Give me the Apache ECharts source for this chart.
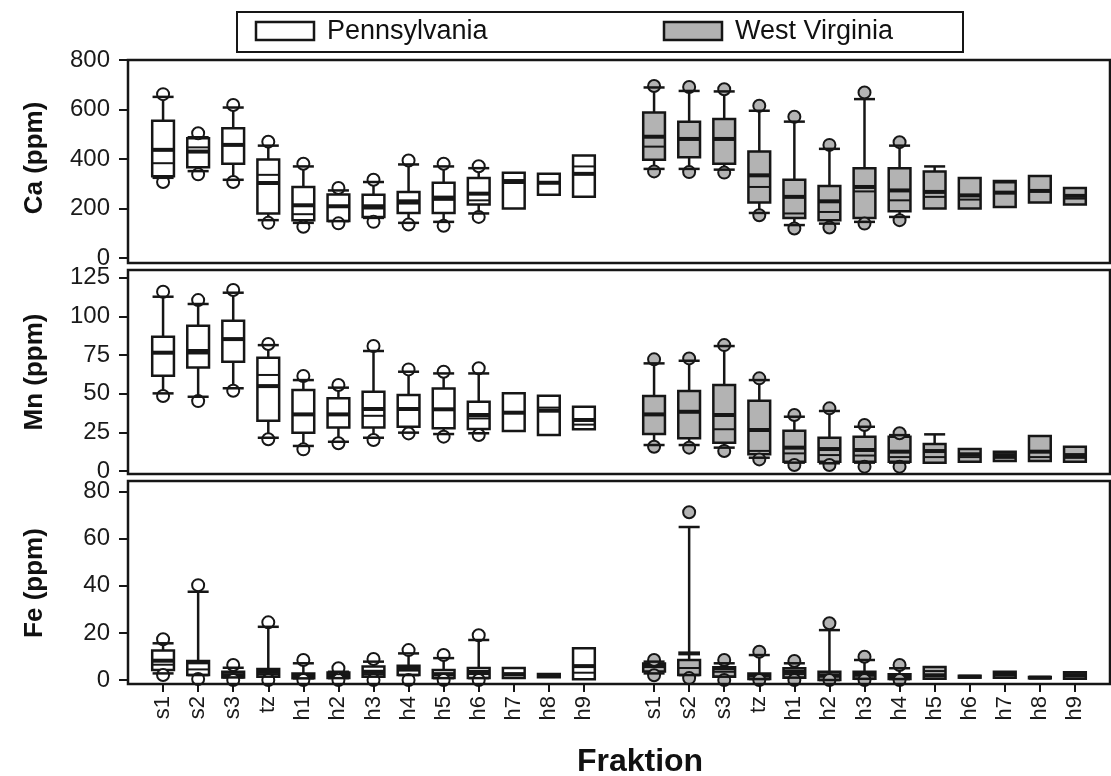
<!DOCTYPE html>
<html><head><meta charset="utf-8">
<script src="https://cdn.jsdelivr.net/npm/echarts@6/dist/echarts.min.js"></script>
<style>html,body{margin:0;padding:0;background:#fff}#c{width:1111px;height:776px}</style>
</head><body><div id="c"></div>
<script>
// Fractions (x categories), same for both states
const fractions = ['s1','s2','s3','tz','h1','h2','h3','h4','h5','h6','h7','h8','h9'];
const states = ['Pennsylvania', 'West Virginia'];
// Row layout: [5th pct (circle), 10th pct (cap), 25th pct, median (thin), mean (thick), 75th pct, 90th pct (cap), 95th pct (circle)]
const caPA = [
  [307,324,330,383,437,555,651,662],
  [338,351,367,447,430,484,488,504],
  [307,316,381,457,457,524,608,618],
  [142,153,180,336,303,398,454,470],
  [126,142,153,177,213,287,370,381],
  [140,149,149,209,209,257,273,283],
  [146,162,166,200,209,256,307,316],
  [135,142,182,220,229,267,378,394],
  [130,146,182,235,244,304,370,381],
  [166,180,216,233,260,323,363,371],
  [null,null,200,315,307,344,null,null],
  [null,null,256,304,304,340,null,null],
  [null,null,247,370,340,414,null,null]
];
const caWV = [
  [350,360,397,450,490,588,689,695],
  [347,360,407,481,481,551,675,691],
  [345,357,381,481,481,562,673,682],
  [173,182,224,287,334,430,595,615],
  [119,133,162,180,247,316,551,571],
  [123,139,153,186,229,291,441,457],
  [139,146,162,269,287,363,642,669],
  [153,166,189,233,273,363,454,468],
  [null,null,200,247,267,350,370,null],
  [null,null,200,236,253,323,null,null],
  [null,null,206,305,264,311,null,null],
  [null,null,224,271,271,331,null,null],
  [null,null,216,240,251,283,null,null]
];
const mnPA = [
  [48.5,50.2,61.6,76.5,76.5,86.8,112.7,115.9],
  [45.2,48,67,76,77.6,93.9,108,110.5],
  [51.9,53.5,70.7,85.3,85.3,97.2,115.3,117],
  [20.5,21.5,32.5,62.1,54.9,73.2,81.4,82.1],
  [14,16.2,24.8,36.6,36.6,52.4,58.8,61.4],
  [17.9,18.9,28.2,36.6,36.6,47,53.9,55.6],
  [20,21.5,28.2,35.7,40.1,51.3,77.6,80.8],
  [24.3,24.8,28.6,40.1,40.1,49.1,64.2,65.7],
  [22.2,23.9,27.6,39.9,39.9,53.4,63.1,64.2],
  [23.3,24.4,27.1,34,36.2,44.8,63.1,66.4],
  [null,null,25.9,37.7,37.7,50.2,null,null],
  [null,null,23.3,41,39,48.7,null,null],
  [null,null,27,30,33,41.6,null,null]
];
const mnWV = [
  [15.7,16.8,23.9,36.6,36.6,48.5,69.6,72.2],
  [15.1,16.8,21.1,38.3,38.3,51.7,71.3,72.8],
  [12.9,15.1,18.3,27,36.2,55.6,80.8,81.4],
  [7.5,8.6,10.8,13,26.5,45.4,58.8,59.9],
  [3.9,5.4,6,11.4,15.1,26.1,35.1,36.2],
  [3.9,5,6,10.3,14.2,21.5,38.8,40.5],
  [2.8,5.4,6,10,13.6,22.2,28.6,29.7],
  [2.8,5.4,6,9,12.5,22.2,23.2,24.4],
  [null,null,5.4,9,12.9,17.5,23.7,null],
  [null,null,6,9,10.8,14.2,null,null],
  [null,null,6.5,8.5,10.3,12.5,null,null],
  [null,null,6.5,9,12.5,22.6,null,null],
  [null,null,6,8.5,10.3,15.7,null,null]
];
const fePA = [
  [2.1,2.8,4.2,6.5,8.2,12.5,15.6,17.3],
  [0.4,2.1,2.1,4.5,7.5,8.1,37.5,40.3],
  [0,1.1,1.1,2.1,2.1,3.5,5.2,6.4],
  [0,1.4,1.4,2.5,3.5,4.7,22.6,24.5],
  [0,0.7,0.7,1.5,2.1,2.8,7.1,8.5],
  [0,0.8,0.8,1.8,2.1,3.2,3.5,5],
  [0,1.4,1.4,2.5,3.5,5.7,7.8,8.9],
  [0,2.1,2.1,4,5,6.1,11.3,12.7],
  [0,0.8,0.8,2,2.5,4.2,9.3,10.6],
  [0,0.8,0.8,2.5,3.4,5.1,17,19],
  [null,null,0.8,2,2.5,5.1,null,null],
  [null,null,1.2,1.8,1.8,2.5,null,null],
  [null,null,0.3,3.1,5.9,13.5,null,null]
];
const feWV = [
  [2,2.8,3.6,5.5,6,7,7.8,8.5],
  [0.8,2.1,2.1,5.1,11.3,8.5,65,71.3],
  [0,1.4,1.4,3.5,5,5.4,7.1,8.5],
  [0,0.4,0.4,1.5,2.1,2.8,10.6,12],
  [0,1,1,2.5,3.5,5,7.1,8.1],
  [0,0,0,1.4,2,3.5,21.2,24.1],
  [0,0.5,0.5,1.8,2.5,3.5,8.5,9.9],
  [0,0.4,0.4,1.4,1.4,2.4,5,6.4],
  [null,null,0.5,3.8,2,5.5,null,null],
  [null,null,1.0,1.4,1.4,1.8,null,null],
  [null,null,1,2,2.4,3.5,null,null],
  [null,null,0.7,1,1,1.3,null,null],
  [null,null,0.5,1.5,2.1,3.3,null,null]
];
const yTitles = ['Ca (ppm)', 'Mn (ppm)', 'Fe (ppm)'];
const yMax = [800, 125, 80];
const yStep = [200, 25, 20];
const xTitle = 'Fraktion';

const panels = [[caPA, caWV], [mnPA, mnWV], [fePA, feWV]];
const fills = ['#ffffff', '#b3b3b3'];
const INK = '#161616';
const FONT = "'Liberation Sans', Arial, sans-serif";

// x positions: PA at 0..12, gap at 13, WV at 14..26
const xPos = [];
const xLab = {};
[0, 14].forEach(off => fractions.forEach((f, i) => { xPos.push(off + i); xLab[off + i] = f; }));

// plotting areas (value 0 .. max) and the surrounding panel frames
const gridsPx = [[60, 198], [277.7, 193.3], [491.7, 188.3]];
const frames = [[128, 60, 982, 203], [128, 270, 982, 204], [128, 481, 982, 203]];
const grid = gridsPx.map(g => ({left: 128, right: 1, top: g[0], height: g[1], show: false}));

const xAxis = gridsPx.map((g, i) => ({
  type: 'value', gridIndex: i, min: -1, max: 27, offset: 4,
  splitLine: {show: false}, axisLine: {show: false, onZero: false},
  axisTick: {show: i === 2, customValues: xPos, length: 8, lineStyle: {color: INK, width: 2}},
  axisLabel: {show: i === 2, customValues: xPos, formatter: v => xLab[v] || '', rotate: 90,
    fontSize: 22, color: '#1a1a1a', fontFamily: FONT, margin: 12}
}));
const yAxis = gridsPx.map((g, i) => ({
  type: 'value', gridIndex: i, min: 0, max: yMax[i], interval: yStep[i],
  splitLine: {show: false}, axisLine: {show: false, onZero: false},
  axisTick: {show: true, length: 9, lineStyle: {color: INK, width: 2}},
  axisLabel: {fontSize: 24, color: '#1a1a1a', fontFamily: FONT, margin: 18}
}));

function makeSeries(rows, stateIdx, gi) {
  const off = stateIdx === 0 ? 0 : 14;
  const fill = fills[stateIdx];
  return {
    type: 'custom', name: states[stateIdx], xAxisIndex: gi, yAxisIndex: gi,
    data: rows.map((r, i) => [off + i, r[5]]),
    encode: {x: 0, y: 1},
    renderItem: function (params, api) {
      const r = rows[params.dataIndex];
      const x = off + params.dataIndex;
      const c = v => api.coord([x, v]);
      const unit = api.size([1, 0])[0];
      const bw = unit * 0.31, cw = unit * 0.3;
      const cx = c(r[2])[0];
      const ch = [];
      const line = (x1, y1, x2, y2, w) => ch.push({type: 'line', shape: {x1, y1, x2, y2},
        style: {stroke: INK, lineWidth: w}});
      if (r[1] != null) { const y = c(r[1])[1]; line(cx, c(r[2])[1], cx, y, 2.5); }
      if (r[6] != null) { const y = c(r[6])[1]; line(cx, c(r[5])[1], cx, y, 2.5); }
      const yt = c(r[5])[1], yb = c(r[2])[1];
      ch.push({type: 'rect', shape: {x: cx - bw, y: yt, width: 2 * bw, height: Math.max(yb - yt, 1)},
        style: {fill: fill, stroke: INK, lineWidth: 2.5}});
      const ym = c(r[3])[1]; line(cx - bw, ym, cx + bw, ym, 2);
      const ya = c(r[4])[1]; line(cx - bw, ya, cx + bw, ya, 4);
      [r[0], r[7]].forEach(v => {
        if (v != null) { const p = c(v); ch.push({type: 'circle', shape: {cx: p[0], cy: p[1], r: 6},
          style: {fill: fill, stroke: INK, lineWidth: 2}}); }
      });
      if (r[1] != null) { const y = c(r[1])[1]; line(cx - cw, y, cx + cw, y, 2.5); }
      if (r[6] != null) { const y = c(r[6])[1]; line(cx - cw, y, cx + cw, y, 2.5); }
      return {type: 'group', children: ch};
    }
  };
}
const series = [];
panels.forEach((p, gi) => p.forEach((rows, si) => series.push(makeSeries(rows, si, gi))));

const graphic = [
  {type: 'rect', shape: {x: 237, y: 12, width: 726, height: 40}, style: {fill: '#fff', stroke: INK, lineWidth: 2}},
  {type: 'rect', shape: {x: 256, y: 22, width: 58, height: 18}, style: {fill: fills[0], stroke: INK, lineWidth: 2.5}},
  {type: 'text', x: 327, y: 32, style: {text: states[0], fill: '#111', font: "27px 'Liberation Sans', Arial, sans-serif", textAlign: 'left', textVerticalAlign: 'middle'}},
  {type: 'rect', shape: {x: 664, y: 22, width: 58, height: 18}, style: {fill: fills[1], stroke: INK, lineWidth: 2.5}},
  {type: 'text', x: 735, y: 32, style: {text: states[1], fill: '#111', font: "27px 'Liberation Sans', Arial, sans-serif", textAlign: 'left', textVerticalAlign: 'middle'}},
  {type: 'text', x: 640, y: 762, style: {text: xTitle, fill: '#111', font: "bold 32px 'Liberation Sans', Arial, sans-serif", textAlign: 'center', textVerticalAlign: 'middle'}}
];
frames.forEach(f => graphic.push({type: 'rect', z: 100, shape: {x: f[0], y: f[1], width: f[2], height: f[3]},
  style: {fill: 'none', stroke: INK, lineWidth: 2.5}}));
[158, 372, 583].forEach((yc, i) => graphic.push({type: 'text', x: 35, y: yc, rotation: Math.PI / 2,
  style: {text: yTitles[i], fill: '#111', font: "bold 26px 'Liberation Sans', Arial, sans-serif", textAlign: 'center', textVerticalAlign: 'middle'}}));

const chart = echarts.init(document.getElementById('c'), null, {renderer: 'canvas'});
chart.setOption({animation: false, backgroundColor: '#fff', grid, xAxis, yAxis, series, graphic});
</script></body></html>
